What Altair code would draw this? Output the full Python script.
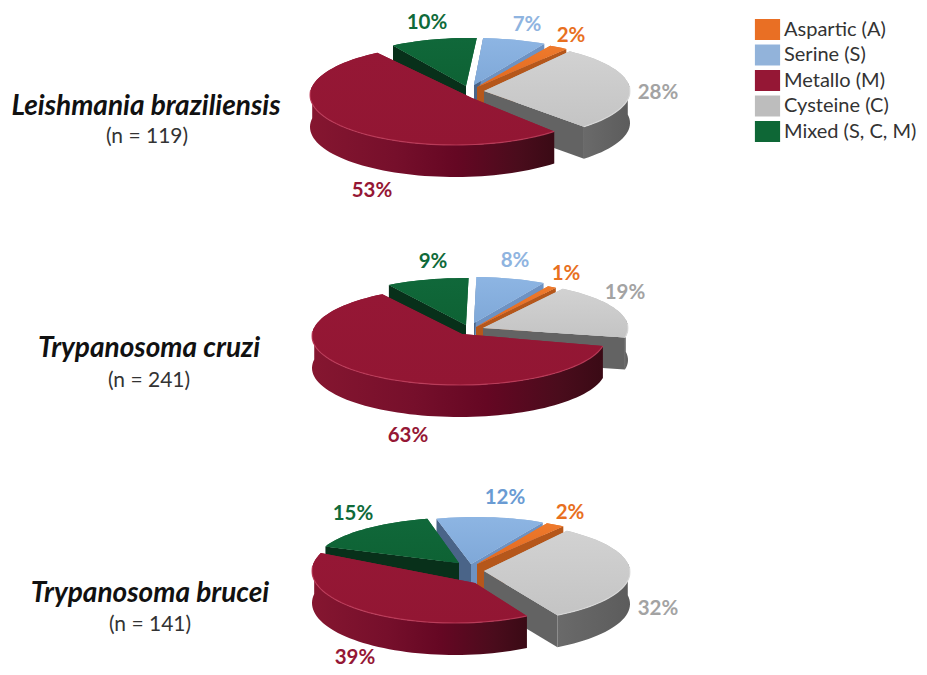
import math
import altair as alt
import pandas as pd

# ---- chart values -------------------------------------------------------
CLASSES = ["Aspartic (A)", "Serine (S)", "Metallo (M)", "Cysteine (C)", "Mixed (S, C, M)"]
LEGEND_COLORS = ["#e96f24", "#92b3da", "#951735", "#bdbdbd", "#0e6736"]
LABEL_COLORS = {"Aspartic (A)": "#e8701f", "Serine (S)": "#8fb4e0", "Metallo (M)": "#951735",
                "Cysteine (C)": "#a3a3a3", "Mixed (S, C, M)": "#0f6a3a"}
SERINE_LABEL_COLOR = ["#8fb4e0", "#8fb4e0", "#6a9bd3"]

SPECIES = ["Leishmania braziliensis", "Trypanosoma cruzi", "Trypanosoma brucei"]
COUNTS = ["(n = 119)", "(n = 241)", "(n = 141)"]

# clockwise from the top-right: Cysteine, Metallo, Mixed, Serine, Aspartic
SLICE_ORDER = ["Cysteine (C)", "Metallo (M)", "Mixed (S, C, M)", "Serine (S)", "Aspartic (A)"]
SHARES_LB = [28, 53, 10, 7, 2]
SHARES_TC = [19, 63, 9, 8, 1]
SHARES_TB = [32, 39, 15, 12, 2]
SHARES = [SHARES_LB, SHARES_TC, SHARES_TB]

# ---- layout -------------------------------------------------------------
START_ANGLE = [36, 33.4, 34.6]
DEPTH = 32
# per slice: ellipse centre x, y, radius x, radius y, apex x, apex y
GEOM = [
    {"Cysteine (C)": (484, 91, 146, 49, 484, 91), "Metallo (M)": (455, 95, 145, 50, 472, 98),
     "Mixed (S, C, M)": (468, 86, 140, 48, 466, 86), "Serine (S)": (474, 85, 146, 47, 474, 85),
     "Aspartic (A)": (477, 87, 152, 47, 477, 87)},
    {"Cysteine (C)": (483, 328, 145, 47, 483, 328), "Metallo (M)": (459, 336, 147, 49, 462, 334),
     "Mixed (S, C, M)": (466, 325, 148, 47, 466, 325), "Serine (S)": (474, 323, 140, 46, 474, 323),
     "Aspartic (A)": (476, 327, 145, 47, 476, 327)},
    {"Cysteine (C)": (484, 572, 146, 50, 484, 571), "Metallo (M)": (455, 571, 143, 52, 475, 583),
     "Mixed (S, C, M)": (469, 562, 153, 45, 459, 563), "Serine (S)": (476, 565, 145, 48, 471, 564),
     "Aspartic (A)": (477, 565, 152, 47, 477, 564)},
]
LABEL_POS = [
    {"Mixed (S, C, M)": (427, 23), "Serine (S)": (527, 25), "Aspartic (A)": (571, 36),
     "Cysteine (C)": (658, 93), "Metallo (M)": (372, 191)},
    {"Mixed (S, C, M)": (433, 262), "Serine (S)": (515, 261), "Aspartic (A)": (566, 274),
     "Cysteine (C)": (625, 293), "Metallo (M)": (408, 436)},
    {"Mixed (S, C, M)": (353, 514), "Serine (S)": (505, 498), "Aspartic (A)": (570, 513),
     "Cysteine (C)": (658, 609), "Metallo (M)": (355, 658)},
]
NAME_POS = [(146, 107), (149, 349), (150, 594)]
COUNT_POS = [(147, 137), (149, 381), (150, 625)]

DRAW_ORDER = ["Serine (S)", "Mixed (S, C, M)", "Aspartic (A)", "Cysteine (C)", "Metallo (M)"]
RADIAL_WALLS = {"Serine (S)": [("end", "#6e92c2"), ("start", "#4a6488")],
                "Mixed (S, C, M)": [("start", "#08301a")],
                "Aspartic (A)": [("end", "#b5571b")], "Cysteine (C)": [("end", "#636363")]}


def grad(stops, x1=0, y1=0, x2=1, y2=0):
    return alt.Gradient(gradient="linear", x1=x1, y1=y1, x2=x2, y2=y2,
                        stops=[alt.GradientStop(offset=o, color=c) for o, c in stops])


TOP_FILL = {
    "Aspartic (A)": grad([(0, "#ee7a2c"), (1, "#e2681f")], y2=1, x2=0),
    "Serine (S)": grad([(0, "#8db5e3"), (1, "#7fa8d8")], y2=1, x2=0),
    "Metallo (M)": grad([(0, "#951735"), (1, "#921633")], y2=1, x2=0),
    "Cysteine (C)": grad([(0, "#d2d2d2"), (1, "#c4c4c4")], y2=1, x2=0),
    "Mixed (S, C, M)": grad([(0, "#10683a"), (1, "#0e6234")], y2=1, x2=0),
}
ARC_WALL = {
    "Metallo (M)": grad([(0, "#851630"), (0.35, "#760f2b"), (0.6, "#650723"), (0.85, "#4a0c1c"), (1, "#3a0a15")]),
    "Cysteine (C)": grad([(0, "#6a6a6a"), (1, "#5c5c5c")]),
}
RIM = {"Metallo (M)": "#c0405e", "Cysteine (C)": "#dedede"}

X = alt.Scale(domain=[8, 919], nice=False, zero=False)
Y = alt.Scale(domain=[667, 8], nice=False, zero=False)


def pt(g, t):
    r = math.radians(t)
    return g[0] + g[2] * math.sin(r), g[1] - g[3] * math.cos(r)


def arc(g, t0, t1):
    n = max(2, int(abs(t1 - t0) / 2.5))
    return [pt(g, t0 + (t1 - t0) * i / n) for i in range(n + 1)]


def frame(points):
    df = pd.DataFrame(points, columns=["x", "y"])
    df["i"] = range(len(df))
    return df


ENC = dict(x=alt.X("x:Q", scale=X, axis=None), y=alt.Y("y:Q", scale=Y, axis=None), order="i:Q")


def poly(points, fill, cls=None):
    df = frame(points)
    if cls is not None:
        df["Class"] = cls
        return alt.Chart(df).mark_line(filled=True, strokeWidth=0, interpolate="linear").encode(
            color=alt.Color("Class:N", scale=alt.Scale(domain=CLASSES, range=LEGEND_COLORS),
                            legend=alt.Legend(title=None, orient="none", legendX=749, legendY=11,
                                              symbolType="M-1.2,-1L1.2,-1L1.2,1L-1.2,1Z",
                                              symbolSize=441, symbolStrokeWidth=0, symbolOpacity=1,
                                              labelFont="Lato", labelFontSize=20, labelColor="#333333",
                                              labelOffset=6, rowPadding=4.5, labelLimit=200)),
            **ENC)
    return alt.Chart(df).mark_line(fill=fill, strokeWidth=0, strokeOpacity=0).encode(**ENC)


def text(x, y, s, color, size, **kw):
    df = pd.DataFrame({"x": [x], "y": [y], "s": [s]})
    return alt.Chart(df).mark_text(color=color, fontSize=size, font="Lato", baseline="middle",
                                   align="center", **kw).encode(
        x=alt.X("x:Q", scale=X, axis=None), y=alt.Y("y:Q", scale=Y, axis=None), text="s:N")


layers = []
for p in range(3):
    spans, a = {}, START_ANGLE[p]
    for cls, share in zip(SLICE_ORDER, SHARES[p]):
        spans[cls] = (a, a + share * 3.6)
        a += share * 3.6
    for cls in DRAW_ORDER:
        g = GEOM[p][cls]
        t0, t1 = spans[cls]
        apex = (g[4], g[5])
        for edge, col in RADIAL_WALLS.get(cls, []):
            c = pt(g, t0 if edge == "start" else t1)
            layers.append(poly([apex, c, (c[0], c[1] + DEPTH), (apex[0], apex[1] + DEPTH), apex],
                               grad([(0, col), (1, col)])))
        if cls in ARC_WALL:
            top = arc(g, max(t0, 80), min(t1, 280))
            bottom = [(x, y + DEPTH) for x, y in reversed(top)]
            layers.append(poly(top + bottom + top[:1], ARC_WALL[cls]))
        surface = [apex] + arc(g, t0, t1) + [apex]
        layers.append(poly(surface, None, cls))
        layers.append(poly(surface, TOP_FILL[cls]))
        if cls in RIM:
            layers.append(alt.Chart(frame(arc(g, max(t0, 85), min(t1, 275)))).mark_line(
                color=RIM[cls], strokeWidth=1.2, opacity=0.8).encode(**ENC))
    for cls, share in zip(SLICE_ORDER, SHARES[p]):
        x, y = LABEL_POS[p][cls]
        col = SERINE_LABEL_COLOR[p] if cls == "Serine (S)" else LABEL_COLORS[cls]
        layers.append(text(x, y, f"{share}%", col, 20.5, fontWeight="bold"))
    layers.append(text(*NAME_POS[p], SPECIES[p], "#111111", 28, fontWeight="bold", fontStyle="italic"))
    layers.append(text(*COUNT_POS[p], COUNTS[p], "#333333", 21))

chart = alt.layer(*layers).properties(
    width=911, height=659, padding=0, autosize=alt.AutoSizeParams(type="none")
).configure_view(stroke=None)

chart.save("out.html", embed_options={"renderer": "svg", "actions": False})
